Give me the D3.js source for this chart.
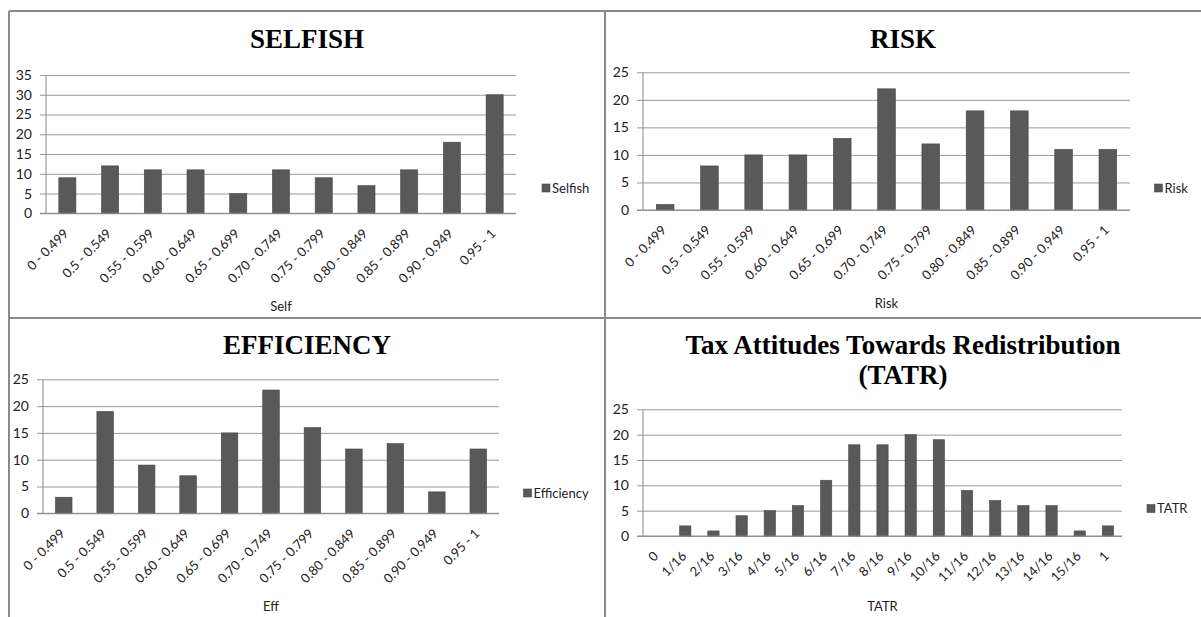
<!DOCTYPE html>
<html><head><meta charset="utf-8">
<script src="https://cdn.jsdelivr.net/npm/d3@7"></script>
<style>
body{margin:0;background:#fff;}
svg{display:block;}
.tick-lbl{font-family:Lato,"Open Sans",sans-serif;font-size:13px;fill:#222;}
.y-lbl{font-family:Lato,"Open Sans",sans-serif;font-size:14px;fill:#222;}
.ttl{font-family:"Liberation Serif","Times New Roman",serif;font-weight:bold;font-size:27px;fill:#000;}
</style></head>
<body><svg id="c" width="1201" height="617"></svg>
<script>
const rangeCategories = ["0 - 0.499","0.5 - 0.549","0.55 - 0.599","0.60 - 0.649","0.65 - 0.699","0.70 - 0.749","0.75 - 0.799","0.80 - 0.849","0.85 - 0.899","0.90 - 0.949","0.95 - 1"];
const tatrCategories = ["0","1/16","2/16","3/16","4/16","5/16","6/16","7/16","8/16","9/16","10/16","11/16","12/16","13/16","14/16","15/16","1"];
const selfishValues = [9,12,11,11,5,11,9,7,11,18,30];
const riskValues = [1,8,10,10,13,22,12,18,18,11,11];
const effValues = [3,19,9,7,15,23,16,12,13,4,12];
const tatrValues = [0,2,1,4,5,6,11,18,18,20,19,9,7,6,6,1,2];
const selfishTicks = [0,5,10,15,20,25,30,35];
const otherTicks = [0,5,10,15,20,25];

const svg = d3.select("#c");

// panel frame
const frame = svg.append("g").attr("stroke","#8a8a8a").attr("stroke-width",2).attr("fill","none");
frame.append("line").attr("x1",9).attr("y1",11).attr("x2",1201).attr("y2",11);
frame.append("line").attr("x1",9).attr("y1",11).attr("x2",9).attr("y2",617);
frame.append("line").attr("x1",605).attr("y1",11).attr("x2",605).attr("y2",617);
frame.append("line").attr("x1",9).attr("y1",318).attr("x2",1201).attr("y2",318);

const charts = [
  {title:["SELFISH"], titleX:307, titleY:48, cats:rangeCategories, vals:selfishValues, ticks:selfishTicks,
   x0:46, x1:516, yTop:75, yBot:213.3, max:35, legend:"Selfish", legX:542, legY:188, axisLbl:"Self", axisY:306},
  {title:["RISK"], titleX:903, titleY:48, cats:rangeCategories, vals:riskValues, ticks:otherTicks,
   x0:643, x1:1130, yTop:72.3, yBot:210, max:25, legend:"Risk", legX:1154.5, legY:188, axisLbl:"Risk", axisY:303},
  {title:["EFFICIENCY"], titleX:307, titleY:354, cats:rangeCategories, vals:effValues, ticks:otherTicks,
   x0:43, x1:499, yTop:379.3, yBot:513.3, max:25, legend:"Efficiency", legX:523.5, legY:493, axisLbl:"Eff", axisY:606},
  {title:["Tax Attitudes Towards Redistribution","(TATR)"], titleX:903, titleY:354, cats:tatrCategories, vals:tatrValues, ticks:otherTicks,
   x0:643, x1:1122, yTop:409.3, yBot:536, max:25, legend:"TATR", legX:1147, legY:508.5, axisLbl:"TATR", axisY:606}
];

charts.forEach(c => {
  const g = svg.append("g");
  const x = d3.scaleBand().domain(c.cats).range([c.x0,c.x1]).paddingInner(0.6).paddingOuter(0.3);
  const y = d3.scaleLinear().domain([0,c.max]).range([c.yBot,c.yTop]);

  // title
  c.title.forEach((t,i) => {
    g.append("text").attr("class","ttl").attr("x",c.titleX).attr("y",c.titleY + i*30)
      .attr("text-anchor","middle").text(t);
  });

  // gridlines + y ticks
  const yAxis = d3.axisLeft(y).tickValues(c.ticks).tickSize(-(c.x1-c.x0)).tickPadding(14).tickFormat(d3.format("d"));
  const ya = g.append("g").attr("transform",`translate(${c.x0},0)`).call(yAxis);
  ya.select(".domain").remove();
  ya.selectAll(".tick line").attr("stroke","#9a9a9a").attr("x1",-6);
  ya.selectAll(".tick text").attr("class","y-lbl").attr("font-family",null).attr("font-size",null).attr("fill","#222");

  // y axis line
  g.append("line").attr("x1",c.x0).attr("x2",c.x0).attr("y1",c.yTop).attr("y2",c.yBot).attr("stroke","#8a8a8a");

  // bars
  g.append("g").selectAll("rect").data(c.vals).join("rect")
    .attr("x",(d,i)=>x(c.cats[i]))
    .attr("y",d=>y(d))
    .attr("width",x.bandwidth())
    .attr("height",d=>y(0)-y(d))
    .attr("fill","#595959").attr("stroke","#474747").attr("stroke-width",0.6);

  // x axis
  const xAxis = d3.axisBottom(x).tickSize(0).tickPadding(0);
  const xa = g.append("g").attr("transform",`translate(0,${c.yBot})`).call(xAxis);
  xa.select(".domain").attr("stroke","#8a8a8a").attr("d",`M${c.x0-6},0H${c.x1}`);
  xa.selectAll(".tick text").attr("class","tick-lbl").attr("font-family",null).attr("font-size",null).attr("fill","#222")
    .attr("text-anchor","end").attr("dy",null).attr("y",0)
    .attr("transform","translate(2,21) rotate(-45)");

  // legend
  g.append("rect").attr("x",c.legX).attr("y",c.legY-4).attr("width",8).attr("height",8)
    .attr("fill","#595959").attr("stroke","#474747").attr("stroke-width",0.6);
  g.append("text").attr("class","tick-lbl").attr("x",c.legX+10).attr("y",c.legY).attr("dy","0.35em").text(c.legend);

  // axis title
  g.append("text").attr("class","tick-lbl").attr("x",(c.x0+c.x1)/2).attr("y",c.axisY).attr("dy","0.35em")
    .attr("text-anchor","middle").text(c.axisLbl);
});
</script></body></html>
